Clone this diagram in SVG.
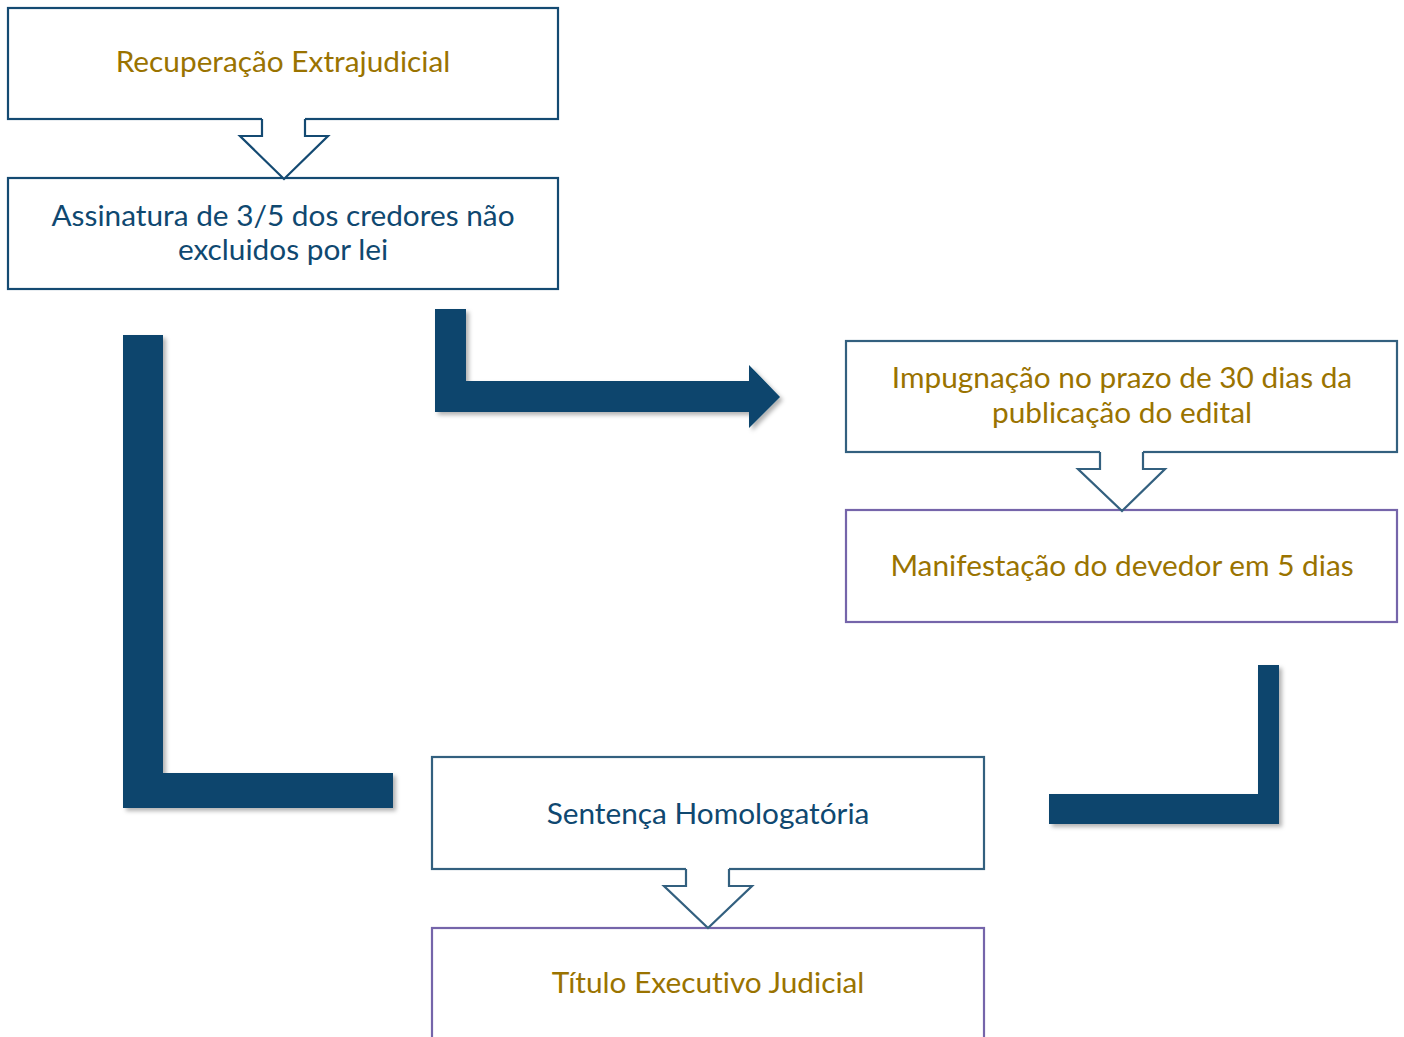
<svg xmlns="http://www.w3.org/2000/svg" width="1404" height="1037" viewBox="0 0 1404 1037">
  <defs>
    <filter id="shadow" x="-10%" y="-10%" width="130%" height="130%">
      <feDropShadow dx="3" dy="3" stdDeviation="2" flood-color="#000" flood-opacity="0.3"/>
    </filter>
  </defs>
  <style>
    .box { fill: #ffffff; stroke-width: 2.2; }
    .blue { stroke: #144a72; }
    .soft { stroke: #33607f; }
    .purple { stroke: #7565aa; }
    .hollow { fill: #ffffff; stroke: none; }
    .hline { fill: none; stroke-width: 2.2; stroke-linejoin: miter; }
    .bent { fill: #07456d; filter: url(#shadow); }
    text { font-family: Lato, "Open Sans", "Liberation Sans", sans-serif; font-size: 29.8px; text-anchor: middle; font-variant-ligatures: none; }
    .gold { fill: #9a7300; }
    .navy { fill: #0f4870; }
  </style>
  <rect width="1404" height="1037" fill="#ffffff"/>

  <g id="node-recuperacao">
    <rect class="box blue" x="8" y="8" width="550" height="111"/>
    <text class="gold" x="283" y="72">Recuperação Extrajudicial</text>
  </g>

  <g id="node-assinatura">
    <rect class="box blue" x="8" y="178" width="550" height="111"/>
    <text class="navy" x="283" y="226">Assinatura de 3/5 dos credores não</text>
    <text class="navy" x="283" y="260">excluidos por lei</text>
  </g>

  <g id="node-impugnacao">
    <rect class="box soft" x="846" y="341" width="551" height="111"/>
    <text class="gold" x="1122" y="388">Impugnação no prazo de 30 dias da</text>
    <text class="gold" x="1122" y="423">publicação do edital</text>
  </g>

  <g id="node-manifestacao">
    <rect class="box purple" x="846" y="510" width="551" height="112"/>
    <text class="gold" x="1122" y="576">Manifestação do devedor em 5 dias</text>
  </g>

  <g id="node-sentenca">
    <rect class="box soft" x="432" y="757" width="552" height="112"/>
    <text class="navy" x="708" y="824">Sentença Homologatória</text>
  </g>

  <g id="node-titulo">
    <rect class="box purple" x="432" y="928" width="552" height="120"/>
    <text class="gold" x="708" y="993">Título Executivo Judicial</text>
  </g>

  <g id="connectors">
    <polygon class="hollow" points="262,117 305,117 305,136 328,136 284,179 240,136 262,136"/>
    <polyline class="hline blue" points="262,119 262,136 240,136 284,179 328,136 305,136 305,119"/>

    <polygon class="hollow" points="1100,450 1143,450 1143,469 1165,469 1122,512 1078,469 1100,469"/>
    <polyline class="hline soft" points="1100,452 1100,469 1078,469 1122,511 1165,469 1143,469 1143,452"/>

    <polygon class="hollow" points="686,867 729,867 729,886 752,886 708,929 664,886 686,886"/>
    <polyline class="hline soft" points="686,869 686,886 664,886 708,928 752,886 729,886 729,869"/>

    <path class="bent" d="M435,309 H466 V381 H749 V365 L780,397 L749,428 V412 H435 Z"/>
    <path class="bent" d="M123,335 H163 V773 H393 V808 H123 Z"/>
    <path class="bent" d="M1258,665 H1279 V824 H1049 V794 H1258 Z"/>
  </g>
</svg>
